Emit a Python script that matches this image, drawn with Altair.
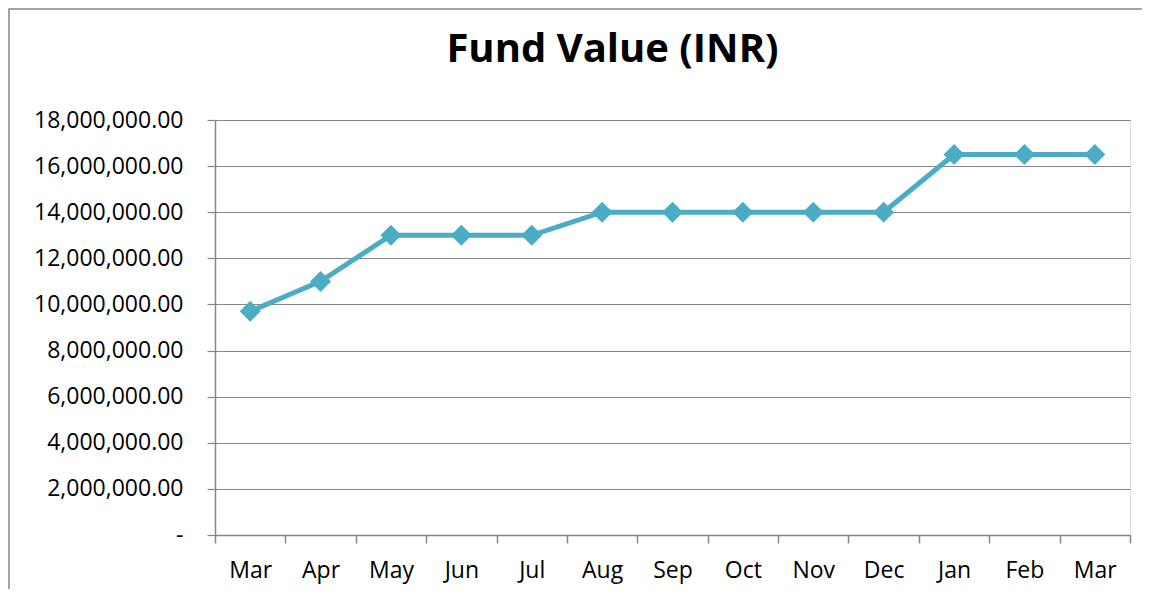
import altair as alt
import pandas as pd

months = ["Mar", "Apr", "May", "Jun", "Jul", "Aug", "Sep", "Oct", "Nov", "Dec", "Jan", "Feb", "Mar"]
values = [9700000, 11000000, 13000000, 13000000, 13000000, 14000000, 14000000,
          14000000, 14000000, 14000000, 16500000, 16500000, 16500000]
y_ticks = [0, 2000000, 4000000, 6000000, 8000000, 10000000, 12000000, 14000000, 16000000, 18000000]
title_text = "Fund Value (INR)"

df = pd.DataFrame({"idx": list(range(len(months))), "month": months, "value": values})

label_js = "[" + ",".join("'" + m + "'" for m in months) + "][datum.value]"

FONT = "Open Sans"
GRAY = "#868686"
LINE = "#4BACC6"
W, H = 915, 415

x = alt.X("idx:O", bandPosition=0.5,
          scale=alt.Scale(type="band", paddingInner=0, paddingOuter=0),
          axis=alt.Axis(title=None, labelExpr=label_js, tickBand="extent", grid=False,
                        labelAngle=0, labelFontSize=23, labelFont=FONT, labelColor="#000000",
                        labelPadding=16, tickSize=8, tickColor=GRAY, domainColor=GRAY,
                        tickWidth=1.5, domainWidth=1.5))
y = alt.Y("value:Q",
          scale=alt.Scale(domain=[0, 18000000], nice=False),
          axis=alt.Axis(title=None, values=y_ticks,
                        labelExpr="datum.value == 0 ? '-\u00a0\u00a0' : format(datum.value, ',.2f')",
                        labelFontSize=23, labelFont=FONT, labelColor="#000000",
                        labelPadding=24, tickSize=8, tickColor=GRAY, domainColor=GRAY,
                        gridColor=GRAY, gridWidth=1.2, tickWidth=1.2, domainWidth=1.5))

base = alt.Chart(df)
line = base.mark_line(color=LINE, strokeWidth=5).encode(x=x, y=y)
pts = base.mark_point(shape="diamond", filled=True, size=440, color=LINE, opacity=1).encode(x=x, y=y)

one = pd.DataFrame({"t": [title_text]})
frame = alt.Chart(one).mark_rect(
    fill=None, stroke=GRAY, strokeWidth=1.5, clip=False
).encode(x=alt.value(-206), y=alt.value(-111), x2=alt.value(W + 400), y2=alt.value(H + 400))

title = alt.Chart(one).mark_text(
    font=FONT, fontSize=40, fontWeight="bold", color="#000000",
    align="center", baseline="alphabetic"
).encode(text="t:N", x=alt.value(W / 2 - 60), y=alt.value(-58))

chart = alt.layer(frame, line, pts, title).properties(
    width=W, height=H,
    padding={"left": 207, "top": 112, "right": 12, "bottom": 54},
    autosize=alt.AutoSizeParams(type="none"),
).configure_view(stroke=None).configure(background="white")

chart.save("out.html", embed_options={"renderer": "svg", "actions": False})
